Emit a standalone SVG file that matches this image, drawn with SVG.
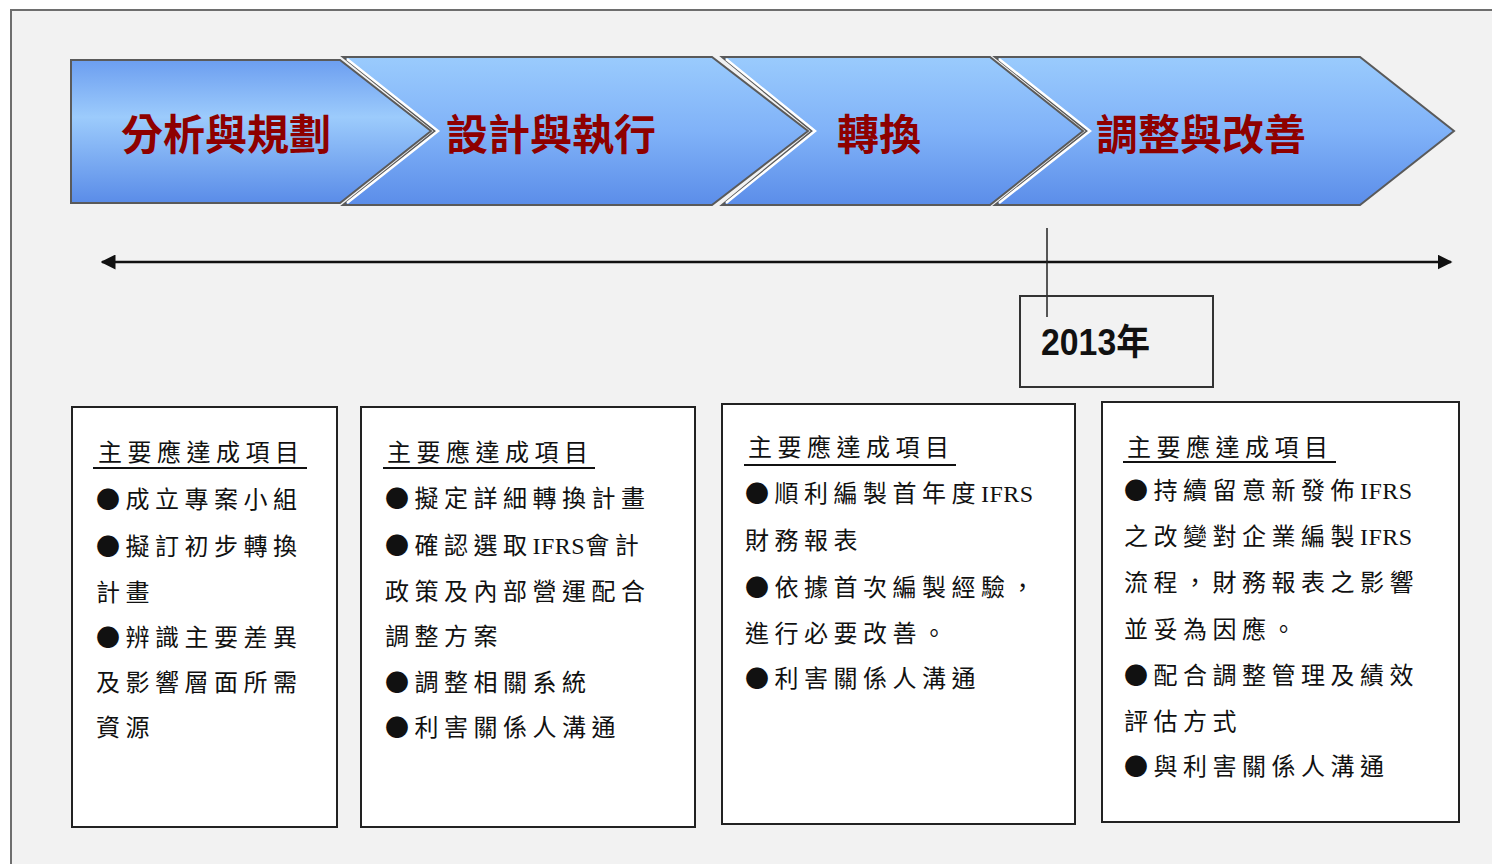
<svg xmlns="http://www.w3.org/2000/svg" width="1492" height="864" viewBox="0 0 1492 864">
<defs>
<linearGradient id="g1" x1="0" y1="0" x2="0" y2="1">
<stop offset="0" stop-color="#6c9ef0"/>
<stop offset="0.4" stop-color="#9ccbfc"/>
<stop offset="1" stop-color="#5a8ce8"/>
</linearGradient>
<linearGradient id="g2" x1="0" y1="0" x2="0" y2="1">
<stop offset="0" stop-color="#9acbfd"/>
<stop offset="0.5" stop-color="#80b2f8"/>
<stop offset="1" stop-color="#5b8de9"/>
</linearGradient>
<marker id="ah" viewBox="0 0 10 10" refX="9" refY="5" markerWidth="6" markerHeight="6" orient="auto-start-reverse" markerUnits="strokeWidth">
<path d="M0,0 L10,5 L0,10 z" fill="#111"/>
</marker>
<style>
.chev{stroke:#5a5a5a;stroke-width:2;stroke-linejoin:miter}
.hl{fill:none;stroke:#ffffff;stroke-width:2.5}
.ph{font-family:"Noto Sans CJK TC","Noto Sans CJK SC",sans-serif;font-weight:bold;font-size:42px;fill:#8e0000;text-anchor:middle}
.box{fill:#ffffff;stroke:#222;stroke-width:2}
.bt{font-family:"Noto Sans CJK TC","Noto Sans CJK SC",sans-serif;font-size:24px;letter-spacing:5.5px;fill:#111}
.lat{font-family:"Liberation Serif",serif;font-size:24px;letter-spacing:0.5px}
.ul{stroke:#111;stroke-width:2}
</style>
</defs>
<rect x="0" y="0" width="1492" height="864" fill="#ffffff"/>
<rect x="11" y="10" width="1500" height="900" fill="#f2f2f2" stroke="#6e6e6e" stroke-width="2"/>

<g id="phase1">
<polygon class="chev" points="71,60 340,60 431,131 340,203 71,203" fill="url(#g1)" stroke="#8a8a8a"/>
<text class="ph" x="226" y="150">分析與規劃</text>
</g>
<g id="phase2">
<polygon class="chev" points="343,57 712,57 808,131 712,205 343,205 435,131" fill="url(#g2)"/>
<polyline class="hl" points="347,59 438,131 347,203"/>
<text class="ph" x="551" y="150">設計與執行</text>
</g>
<g id="phase3">
<polygon class="chev" points="722,57 990,57 1083,131 990,205 722,205 812,131" fill="url(#g2)"/>
<polyline class="hl" points="726,59 815,131 726,203"/>
<text class="ph" x="879" y="150">轉換</text>
</g>
<g id="phase4">
<polygon class="chev" points="995,57 1360,57 1454,131 1360,205 995,205 1087,131" fill="url(#g2)"/>
<polyline class="hl" points="999,59 1090,131 999,203"/>
<text class="ph" x="1201" y="150">調整與改善</text>
</g>

<g id="connectors">
<line x1="102" y1="262" x2="1451" y2="262" stroke="#111" stroke-width="2.5" marker-start="url(#ah)" marker-end="url(#ah)"/>
<line x1="1047" y1="228" x2="1047" y2="317" stroke="#222" stroke-width="1.5"/>
</g>

<g id="year">
<rect x="1020" y="296" width="193" height="91" fill="none" stroke="#333" stroke-width="2"/>
<text x="1041" y="355" font-family="Liberation Sans, Noto Sans CJK TC, sans-serif" font-weight="bold" font-size="36" textLength="109" lengthAdjust="spacingAndGlyphs" fill="#111">2013年</text>
</g>

<g id="box1">
<rect class="box" x="72" y="407" width="265" height="420"/>
<text class="bt" x="98" y="461">主要應達成項目</text>
<line class="ul" x1="93" y1="468" x2="307" y2="468"/>
<text class="bt" x="96" y="508">●成立專案小組</text>
<text class="bt" x="96" y="555">●擬訂初步轉換</text>
<text class="bt" x="96" y="601">計畫</text>
<text class="bt" x="96" y="646">●辨識主要差異</text>
<text class="bt" x="96" y="691">及影響層面所需</text>
<text class="bt" x="96" y="736">資源</text>
</g>

<g id="box2">
<rect class="box" x="361" y="407" width="334" height="420"/>
<text class="bt" x="387" y="461">主要應達成項目</text>
<line class="ul" x1="383" y1="468" x2="595" y2="468"/>
<text class="bt" x="385" y="507">●擬定詳細轉換計畫</text>
<text class="bt" x="385" y="554">●確認選取<tspan class="lat">IFRS</tspan>會計</text>
<text class="bt" x="385" y="600">政策及內部營運配合</text>
<text class="bt" x="385" y="645">調整方案</text>
<text class="bt" x="385" y="691">●調整相關系統</text>
<text class="bt" x="385" y="736">●利害關係人溝通</text>
</g>

<g id="box3">
<rect class="box" x="722" y="404" width="353" height="420"/>
<text class="bt" x="748" y="456">主要應達成項目</text>
<line class="ul" x1="744" y1="465" x2="956" y2="465"/>
<text class="bt" x="745" y="502">●順利編製首年度<tspan class="lat">IFRS</tspan></text>
<text class="bt" x="745" y="549">財務報表</text>
<text class="bt" x="745" y="596">●依據首次編製經驗，</text>
<text class="bt" x="745" y="642">進行必要改善。</text>
<text class="bt" x="745" y="687">●利害關係人溝通</text>
</g>

<g id="box4">
<rect class="box" x="1102" y="402" width="357" height="420"/>
<text class="bt" x="1127" y="456">主要應達成項目</text>
<line class="ul" x1="1123" y1="462" x2="1336" y2="462"/>
<text class="bt" x="1124" y="499">●持續留意新發佈<tspan class="lat">IFRS</tspan></text>
<text class="bt" x="1124" y="545">之改變對企業編製<tspan class="lat">IFRS</tspan></text>
<text class="bt" x="1124" y="591">流程，財務報表之影響</text>
<text class="bt" x="1124" y="638">並妥為因應。</text>
<text class="bt" x="1124" y="684">●配合調整管理及績效</text>
<text class="bt" x="1124" y="730">評估方式</text>
<text class="bt" x="1124" y="775">●與利害關係人溝通</text>
</g>
</svg>
